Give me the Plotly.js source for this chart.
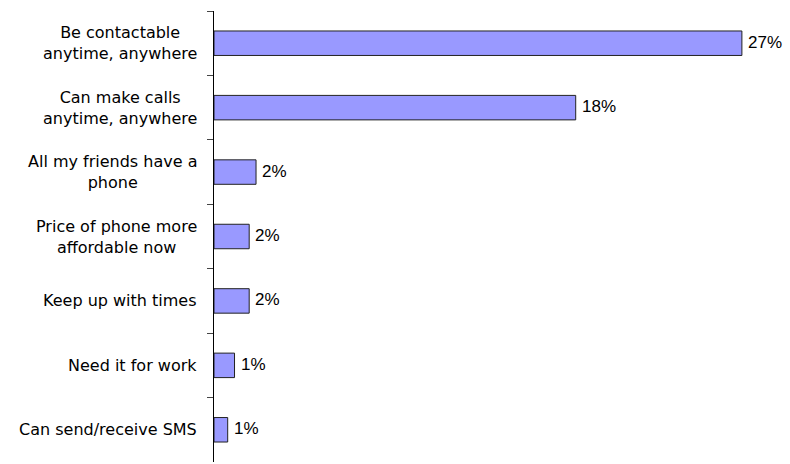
<!DOCTYPE html>
<html>
<head>
<meta charset="utf-8">
<script src="https://cdn.plot.ly/plotly-3.0.1.min.js"></script>
<style>html,body{margin:0;padding:0;background:#fff;}#chart{width:790px;height:464px;}</style>
</head>
<body>
<div id="chart"></div>
<script>
const categories = [
  "Be contactable<br>anytime, anywhere",
  "Can make calls<br>anytime, anywhere",
  "All my friends have a<br>phone",
  "Price of phone more<br>affordable now",
  "Keep up with times",
  "Need it for work",
  "Can send/receive SMS"
];
const values = [27.0, 18.5, 2.15, 1.8, 1.8, 1.05, 0.7];
const valueLabels = ["27%", "18%", "2%", "2%", "2%", "1%", "1%"];

const trace = {
  type: 'bar',
  orientation: 'h',
  y: categories,
  x: values,
  marker: {color: '#9999FF', line: {color: '#222', width: 1}},
  width: 0.38,
  hoverinfo: 'none'
};

const catAnnotations = categories.map(c => ({
  xref: 'paper', yref: 'y', x: 0, y: c,
  text: c, showarrow: false, xanchor: 'right', yanchor: 'middle',
  align: 'center', xshift: -15,
  font: {family: 'DejaVu Sans, sans-serif', size: 16, color: '#000'}
}));

const valueAnnotations = categories.map((c, i) => ({
  xref: 'x', yref: 'y', x: values[i], y: c,
  text: valueLabels[i], showarrow: false, xanchor: 'left', yanchor: 'middle',
  xshift: 4, yshift: 1,
  font: {family: 'Liberation Sans, Arial, sans-serif', size: 17, color: '#000'}
}));

const layout = {
  width: 790, height: 464,
  margin: {l: 214, r: 9, t: 11, b: 2},
  paper_bgcolor: '#fff', plot_bgcolor: '#fff',
  showlegend: false,
  xaxis: {range: [0, 29], visible: false, fixedrange: true},
  yaxis: {
    type: 'category', autorange: 'reversed',
    showline: true, linecolor: '#000', linewidth: 1,
    ticks: 'outside', tickson: 'boundaries', ticklen: 6, tickcolor: '#444',
    showticklabels: false, showgrid: false, zeroline: false
  },
  annotations: catAnnotations.concat(valueAnnotations)
};

Plotly.newPlot('chart', [trace], layout, {staticPlot: true, displayModeBar: false});
</script>
</body>
</html>
